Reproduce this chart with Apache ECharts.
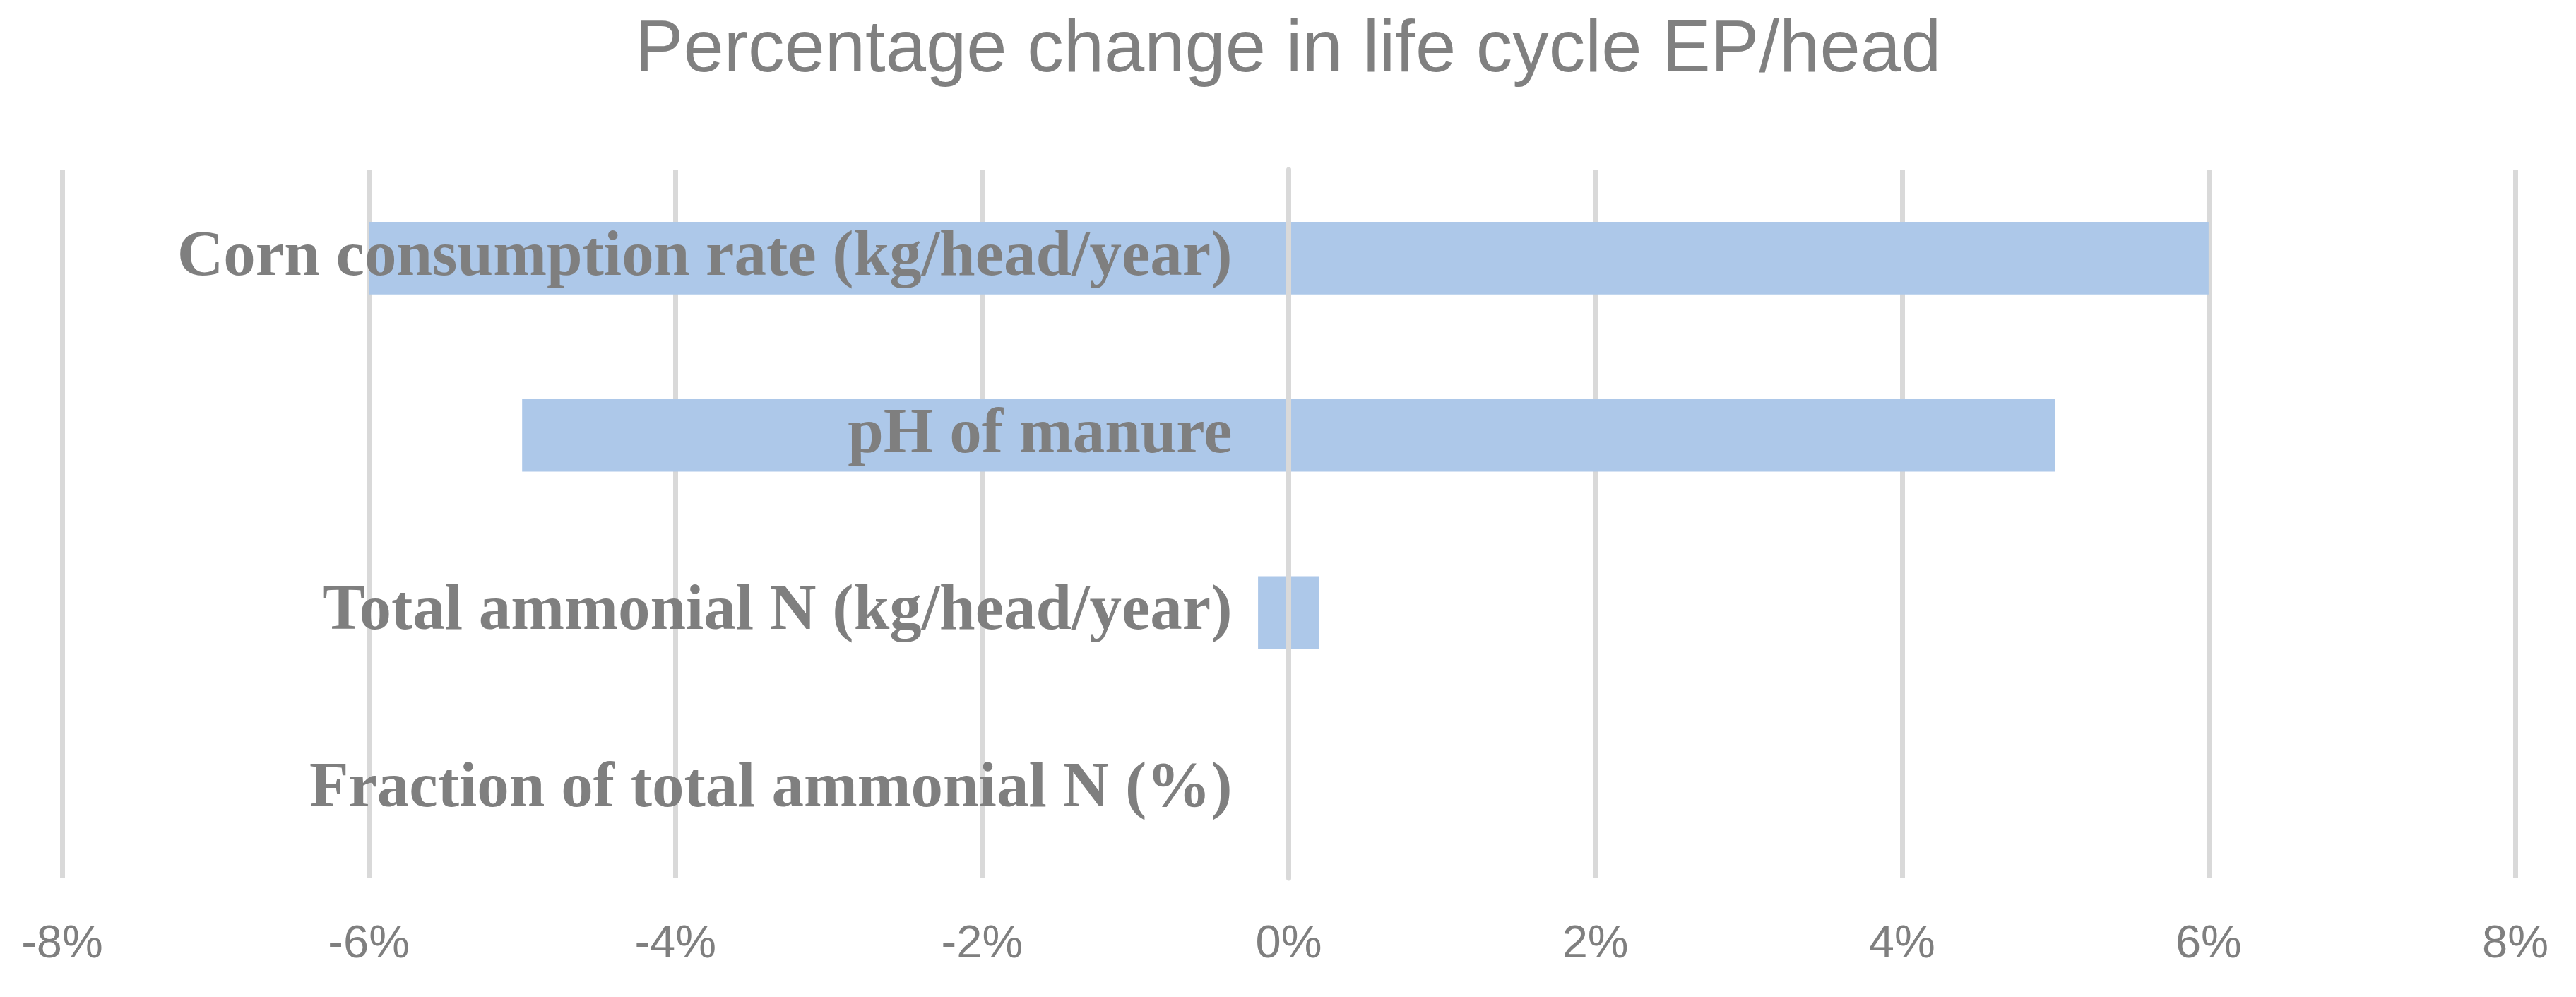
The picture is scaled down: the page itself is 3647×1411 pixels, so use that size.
<!DOCTYPE html>
<html>
<head>
<meta charset="utf-8">
<script src="https://cdn.jsdelivr.net/npm/echarts@6/dist/echarts.min.js"></script>
<style>
html,body{margin:0;padding:0;background:#fff;}
#chart{width:3647px;height:1411px;}
</style>
</head>
<body>
<div id="chart"></div>
<script>
var titleText = 'Percentage change in life cycle EP/head';
var categories = [
  'Corn consumption rate (kg/head/year)',
  'pH of manure',
  'Total ammonial N (kg/head/year)',
  'Fraction of total ammonial N (%)'
];
var lowValues = [-6, -5, -0.2, 0];
var highValues = [6, 5, 0.2, 0];
var xTicks = { min: -8, max: 8, interval: 2 };

var gridLeft = 88;
var chart = echarts.init(document.getElementById('chart'));
function build(yOffset) {
  return {
    animation: false,
    backgroundColor: '#ffffff',
    title: {
      text: titleText,
      left: 'center',
      top: 16,
      textStyle: {
        fontFamily: 'Liberation Sans',
        fontWeight: 'normal',
        fontSize: 103,
        color: '#808080'
      }
    },
    grid: { left: gridLeft, right: 86, top: 240, bottom: 168, containLabel: false, outerBoundsMode: 'none' },
    xAxis: {
      type: 'value',
      min: xTicks.min,
      max: xTicks.max,
      interval: xTicks.interval,
      axisLine: { show: false },
      axisTick: { show: false },
      splitLine: { show: true, lineStyle: { color: '#d9d9d9', width: 7 } },
      axisLabel: {
        formatter: '{value}%',
        fontFamily: 'Liberation Sans',
        fontSize: 65,
        color: '#7f7f7f',
        margin: 62
      }
    },
    yAxis: {
      type: 'category',
      data: categories,
      inverse: true,
      z: 10,
      position: 'left',
      offset: yOffset,
      axisLine: { show: true, onZero: false, lineStyle: { color: '#d9d9d9', width: 7 } },
      axisTick: { show: false },
      splitLine: { show: false },
      axisLabel: {
        fontFamily: 'Liberation Serif',
        fontWeight: 'bold',
        fontSize: 91,
        color: '#7f7f7f',
        margin: 80
      }
    },
    series: [
      {
        type: 'bar',
        stack: 'range',
        data: lowValues,
        barCategoryGap: '59%',
        itemStyle: { color: '#adc8e9' }
      },
      {
        type: 'bar',
        stack: 'range',
        data: highValues,
        barCategoryGap: '59%',
        itemStyle: { color: '#adc8e9' }
      }
    ]
  };
}
chart.setOption(build(0));
var zeroPx = chart.convertToPixel({ xAxisIndex: 0 }, 0);
var leftPx = chart.convertToPixel({ xAxisIndex: 0 }, xTicks.min);
chart.setOption(build(-(zeroPx - leftPx)));
</script>
</body>
</html>
